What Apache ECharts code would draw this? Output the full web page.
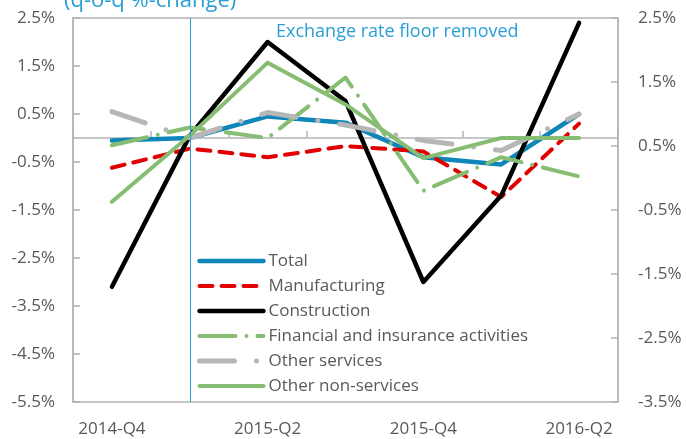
<!DOCTYPE html>
<html>
<head>
<meta charset="utf-8">
<script src="https://cdn.jsdelivr.net/npm/echarts@6/dist/echarts.min.js"></script>
<style>
  html, body { margin: 0; padding: 0; background: #fff; }
  #chart { width: 686px; height: 439px; }
</style>
</head>
<body>
<div id="chart"></div>
<script>
// Quarterly growth by sector (q-o-q %-change)
const categories = ['2014-Q4', '2015-Q1', '2015-Q2', '2015-Q3', '2015-Q4', '2016-Q1', '2016-Q2'];
const total            = [-0.05,  0.00,  0.45,  0.32, -0.40, -0.55,  0.50];
const manufacturing    = [-0.62, -0.22, -0.40, -0.17, -0.28, -1.23,  0.30];
const construction     = [-3.10,  0.05,  2.00,  0.77, -3.00, -1.20,  2.40];
const financial        = [-0.15,  0.22,  0.00,  1.26, -1.10, -0.40, -0.80];
const otherServices    = [ 0.55,  0.00,  0.53,  0.27, -0.05, -0.26,  0.50];
const otherNonServices = [-1.33,  0.05,  1.57,  0.70, -0.42,  0.00,  0.00];

const leftAxis  = { min: -5.5, max: 2.5, step: 1 };
const rightAxis = { min: -3.5, max: 2.5, step: 1 };
const floorRemovedAt = '2015-Q1';

const FONT = '"Open Sans", "Noto Sans", sans-serif';
const AXIS_GREY = '#b4b4b4';
const TEXT_GREY = '#595959';
const ACCENT = '#2a9fd6';

const pct = v => v.toFixed(1) + '%';

function lineSeries(name, data, style) {
  return {
    name: name,
    type: 'line',
    data: data,
    xAxisIndex: 0,
    yAxisIndex: 0,
    symbol: 'none',
    smooth: false,
    itemStyle: { color: style.color },
    lineStyle: Object.assign({ width: 4, cap: 'round', join: 'round' }, style)
  };
}

const series = [
  lineSeries('Total', total, { color: '#0f86b9', width: 4.5 }),
  lineSeries('Manufacturing', manufacturing, { color: '#e00000', width: 4, type: [13, 9] }),
  lineSeries('Construction', construction, { color: '#000000', width: 4.5 }),
  lineSeries('Financial and insurance activities', financial, { color: '#86bd72', width: 4, type: [36, 11, 0.01, 11] }),
  lineSeries('Other services', otherServices, { color: '#b7b7b7', width: 5, type: [35, 22, 0.01, 22] }),
  lineSeries('Other non-services', otherNonServices, { color: '#86bd72', width: 4 })
];

// vertical marker for the removal of the exchange rate floor
series[0].markLine = {
  silent: true,
  symbol: 'none',
  label: { show: false },
  lineStyle: { color: ACCENT, width: 1, type: 'solid', cap: 'butt' },
  data: [{ xAxis: floorRemovedAt }]
};

const option = {
  animation: false,
  backgroundColor: '#fff',
  textStyle: { fontFamily: FONT },
  title: [
    {
      text: '(q-o-q %-change)',
      left: 64,
      top: -10,
      padding: 0,
      textStyle: { color: ACCENT, fontSize: 22, lineHeight: 22, fontWeight: 'normal', fontFamily: FONT }
    },
    {
      text: 'Exchange rate floor removed',
      left: 276,
      top: 23,
      padding: 0,
      textStyle: { color: ACCENT, fontSize: 18, lineHeight: 18, fontWeight: 'normal', fontFamily: FONT }
    }
  ],
  grid: {
    left: 73, right: 68, top: 18, bottom: 37,
    show: true,
    borderColor: AXIS_GREY,
    borderWidth: 1.5,
    backgroundColor: 'transparent'
  },
  legend: {
    orient: 'vertical',
    left: 192,
    top: 246,
    itemWidth: 64,
    itemHeight: 10,
    itemGap: 5,
    itemStyle: { opacity: 0 },
    textStyle: { color: TEXT_GREY, fontSize: 17, fontFamily: FONT, lineHeight: 20 },
    data: series.map(s => ({
      name: s.name,
      lineStyle: { width: s.lineStyle.width, cap: 'round' }
    }))
  },
  xAxis: [
    {
      // axis line crossing at zero
      type: 'category',
      data: categories,
      boundaryGap: true,
      position: 'bottom',
      axisLine: { show: true, onZero: true, lineStyle: { color: AXIS_GREY, width: 1.5 } },
      axisTick: { show: true, inside: true, length: 7, interval: 0, lineStyle: { color: AXIS_GREY, width: 1.5 } },
      axisLabel: { show: false },
      splitLine: { show: false }
    },
    {
      // category labels along the bottom edge
      type: 'category',
      data: categories,
      boundaryGap: true,
      position: 'bottom',
      axisLine: { show: false, onZero: false },
      axisTick: { show: false },
      axisLabel: { show: true, interval: 1, margin: 19, color: TEXT_GREY, fontSize: 17, fontFamily: FONT },
      splitLine: { show: false }
    }
  ],
  yAxis: [
    {
      type: 'value',
      min: leftAxis.min,
      max: leftAxis.max,
      interval: leftAxis.step,
      position: 'left',
      axisLine: { show: true, lineStyle: { color: AXIS_GREY, width: 1.5 } },
      axisTick: { show: true, inside: true, length: 7, lineStyle: { color: AXIS_GREY, width: 1.5 } },
      axisLabel: { color: TEXT_GREY, fontSize: 17, margin: 18, fontFamily: FONT, formatter: pct },
      splitLine: { show: false }
    },
    {
      type: 'value',
      min: rightAxis.min,
      max: rightAxis.max,
      interval: rightAxis.step,
      position: 'right',
      axisLine: { show: true, lineStyle: { color: AXIS_GREY, width: 1.5 } },
      axisTick: { show: true, inside: true, length: 7, lineStyle: { color: AXIS_GREY, width: 1.5 } },
      axisLabel: { color: TEXT_GREY, fontSize: 17, margin: 20, fontFamily: FONT, formatter: pct },
      splitLine: { show: false }
    }
  ],
  series: series
};

const chart = echarts.init(document.getElementById('chart'), null, { renderer: 'canvas' });
chart.setOption(option);
</script>
</body>
</html>
